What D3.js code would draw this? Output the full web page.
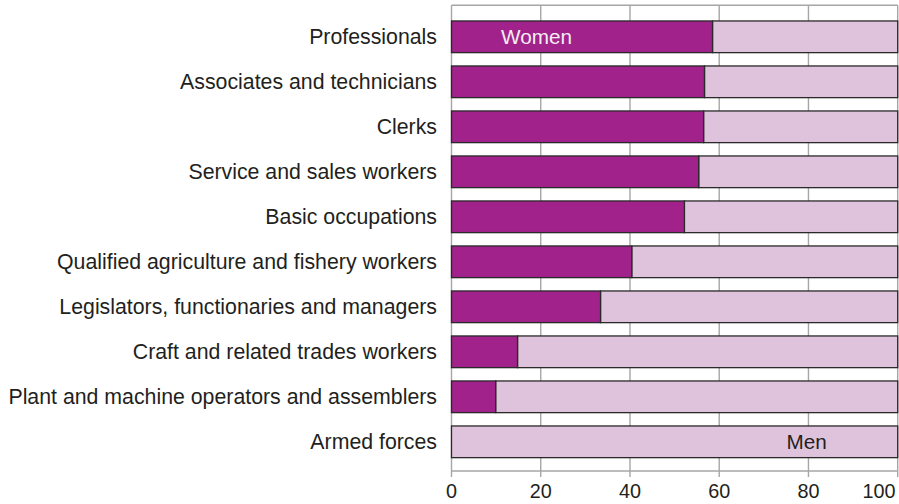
<!DOCTYPE html>
<html><head><meta charset="utf-8">
<script src="https://cdn.jsdelivr.net/npm/d3@7"></script>
<style>body{margin:0;background:#fff}svg{display:block}text{font-family:"Liberation Sans",Arial,sans-serif}</style>
</head><body><svg id="c" width="899" height="504"></svg>
<script>
const categories = ["Professionals","Associates and technicians","Clerks","Service and sales workers","Basic occupations","Qualified agriculture and fishery workers","Legislators, functionaries and managers","Craft and related trades workers","Plant and machine operators and assemblers","Armed forces"];
const women = [58.5,56.7,56.5,55.4,52.2,40.4,33.4,14.8,9.9,0];
const men = women.map(w => 100 - w);
const xTicks = [0,20,40,60,80,100];
const svg = d3.select("#c");
const x = d3.scaleLinear().domain([0,100]).range([451.5,897.7]);
const y = d3.scaleBand().domain(categories).range([14.3,464.3]).paddingInner(0.296).paddingOuter(0.148);
const gridTop = 5.3, gridBottom = 471, tickEnd = 477;
const grid = svg.append("g");
grid.selectAll("line.v").data(xTicks).join("line").attr("class","v")
  .attr("x1",d=>x(d)).attr("x2",d=>x(d)).attr("y1",gridTop).attr("y2",tickEnd)
  .attr("stroke","#a6a6a6").attr("stroke-width",1.4);
grid.selectAll("line.h").data([gridTop,gridBottom]).join("line").attr("class","h")
  .attr("x1",x(0)).attr("x2",x(100)).attr("y1",d=>d).attr("y2",d=>d)
  .attr("stroke","#a6a6a6").attr("stroke-width",1.4);
const bars = svg.append("g");
bars.selectAll("rect.m").data(categories).join("rect").attr("class","m")
  .attr("x",(d,i)=>x(women[i])).attr("width",(d,i)=>x(women[i]+men[i])-x(women[i]))
  .attr("y",d=>y(d)).attr("height",y.bandwidth())
  .attr("fill","#dfc3dc").attr("stroke","#2a2a2a").attr("stroke-width",1.3);
bars.selectAll("rect.w").data(categories.filter((d,i)=>women[i]>0)).join("rect").attr("class","w")
  .attr("x",x(0)).attr("width",d=>x(women[categories.indexOf(d)])-x(0))
  .attr("y",d=>y(d)).attr("height",y.bandwidth())
  .attr("fill","#a0228a").attr("stroke","#2a2a2a").attr("stroke-width",1.3);
svg.append("g").selectAll("text").data(categories).join("text")
  .attr("x",437).attr("y",d=>y(d)+y.bandwidth()/2).attr("dy","0.34em")
  .attr("text-anchor","end").attr("font-size",21.3).attr("fill","#231f20").text(d=>d);
svg.append("g").selectAll("text").data(xTicks).join("text")
  .attr("x",d=>d===100 ? 895.5 : x(d)).attr("y",498)
  .attr("text-anchor",d=>d===100 ? "end" : "middle")
  .attr("font-size",19.8).attr("fill","#231f20").text(d=>d);
svg.append("text").attr("x",x(11.1)).attr("y",y(categories[0])+y.bandwidth()/2).attr("dy","0.36em")
  .attr("font-size",20.7).attr("fill","#f5eef5").text("Women");
svg.append("text").attr("x",x(75.1)).attr("y",y(categories[9])+y.bandwidth()/2).attr("dy","0.36em")
  .attr("font-size",20.7).attr("fill","#231f20").text("Men");
</script></body></html>
